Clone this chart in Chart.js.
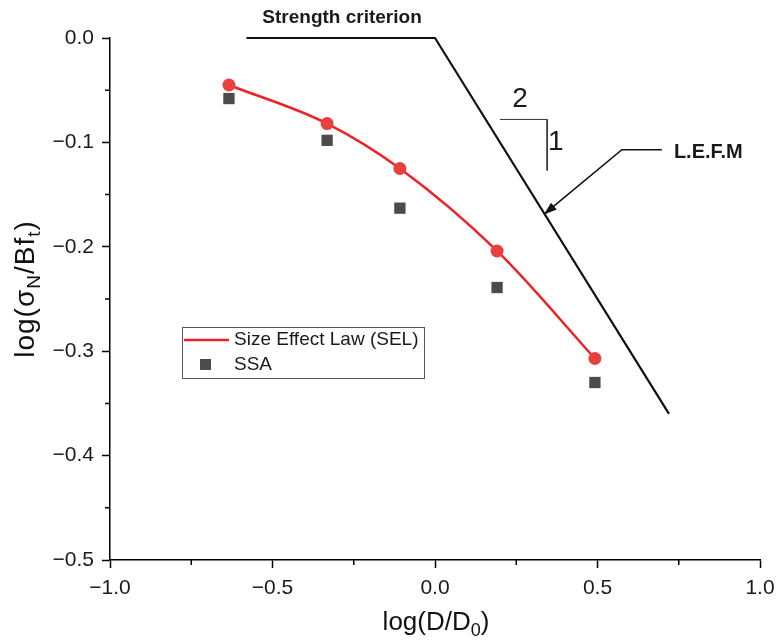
<!DOCTYPE html>
<html>
<head>
<meta charset="utf-8">
<script src="https://cdn.jsdelivr.net/npm/chart.js@4/dist/chart.umd.min.js"></script>
<style>
  body { margin: 0; background: #fff; }
  canvas { display: block; }
</style>
</head>
<body>
<canvas id="sizeEffectChart" width="776" height="644"></canvas>
<script>
// Specimen sizes, log(D/D0)
const sizeX = [-0.634, -0.332, -0.108, 0.191, 0.492];
// Size effect law fit, log(sigmaN/Bft)
const selY = [-0.045, -0.082, -0.125, -0.204, -0.307];
// SSA results
const ssaY = [-0.058, -0.098, -0.163, -0.239, -0.330];

// Strength criterion / LEFM asymptotes
const strengthX = [-0.58, 0, 0.72];
const strengthY = [0, 0, -0.36];

// Slope 1:2 marker
const slopeX = [0.2, 0.345, 0.345];
const slopeY = [-0.078, -0.078, -0.127];

// Leader for the L.E.F.M label (ends at the arrow tip)
const leaderX = [0.698, 0.575, 0.335];
const leaderY = [-0.107, -0.107, -0.169];

// Axis ticks
const xMajor = [-1.0, -0.5, 0.0, 0.5, 1.0];
const yMajor = [0.0, -0.1, -0.2, -0.3, -0.4, -0.5];
const xMinor = [-0.75, -0.25, 0.25, 0.75];
const yMinor = [-0.05, -0.15, -0.25, -0.35, -0.45];

const FONT = '"Liberation Sans", Arial, sans-serif';
const RED = '#ee2226';
const GREY = '#4b4b4b';

function toPoints(xs, ys) {
    return xs.map((x, i) => ({ x: x, y: ys[i] }));
}

function formatTick(value) {
    if (Math.abs(value) < 1e-9) return '0.0';
    return value.toFixed(1).replace('-', '\u2212');
}

// no extra room for edge labels, the chart area is set by layout padding
function fixScale(scale, key, size) {
    scale[key] = size;
    scale.paddingLeft = 0;
    scale.paddingRight = 0;
    scale.paddingTop = 0;
    scale.paddingBottom = 0;
}

// Draw a string made of normal and subscript runs
function drawRich(ctx, parts, x, y, size, spacing) {
    const subSize = Math.round(size * 0.68);
    ctx.letterSpacing = spacing + 'px';
    let total = 0;
    parts.forEach(p => {
        ctx.font = (p.sub ? subSize : size) + 'px ' + FONT;
        total += ctx.measureText(p.t).width;
    });
    let cx = x - total / 2;
    ctx.textAlign = 'left';
    ctx.textBaseline = 'alphabetic';
    parts.forEach(p => {
        ctx.font = (p.sub ? subSize : size) + 'px ' + FONT;
        ctx.fillText(p.t, cx, p.sub ? y + size * 0.22 : y);
        cx += ctx.measureText(p.t).width;
    });
    ctx.letterSpacing = '0px';
}

const annotationPlugin = {
    id: 'annotationPlugin',
    afterDraw(chart) {
        const { ctx, chartArea, scales } = chart;
        const xs = scales.x, ys = scales.y;
        ctx.save();

        // minor ticks
        ctx.strokeStyle = '#000';
        ctx.lineWidth = 1.5;
        ctx.beginPath();
        xMinor.forEach(v => {
            const px = xs.getPixelForValue(v);
            ctx.moveTo(px, chartArea.bottom);
            ctx.lineTo(px, chartArea.bottom + 5);
        });
        yMinor.forEach(v => {
            const py = ys.getPixelForValue(v);
            ctx.moveTo(chartArea.left, py);
            ctx.lineTo(chartArea.left - 5, py);
        });
        ctx.stroke();

        // arrow head on the leader
        const n = leaderX.length;
        const tipX = xs.getPixelForValue(leaderX[n - 1]);
        const tipY = ys.getPixelForValue(leaderY[n - 1]);
        const fromX = xs.getPixelForValue(leaderX[n - 2]);
        const fromY = ys.getPixelForValue(leaderY[n - 2]);
        const ang = Math.atan2(tipY - fromY, tipX - fromX);
        ctx.fillStyle = '#111';
        ctx.beginPath();
        ctx.moveTo(tipX, tipY);
        ctx.lineTo(tipX - 13 * Math.cos(ang) + 4.5 * Math.sin(ang), tipY - 13 * Math.sin(ang) - 4.5 * Math.cos(ang));
        ctx.lineTo(tipX - 13 * Math.cos(ang) - 4.5 * Math.sin(ang), tipY - 13 * Math.sin(ang) + 4.5 * Math.cos(ang));
        ctx.closePath();
        ctx.fill();

        // labels
        ctx.fillStyle = '#1a1a1a';
        ctx.textBaseline = 'middle';
        ctx.font = 'bold 19px ' + FONT;
        ctx.textAlign = 'center';
        ctx.fillText('Strength criterion', xs.getPixelForValue(-0.286), 18);
        ctx.textAlign = 'left';
        ctx.font = 'bold 20px ' + FONT;
        ctx.fillText('L.E.F.M', xs.getPixelForValue(0.735), ys.getPixelForValue(-0.110));
        ctx.font = '28px ' + FONT;
        ctx.textAlign = 'center';
        ctx.fillText('2', xs.getPixelForValue(0.262), ys.getPixelForValue(-0.059));
        ctx.fillText('1', xs.getPixelForValue(0.372), ys.getPixelForValue(-0.100));

        // axis titles
        ctx.fillStyle = '#111';
        drawRich(ctx, [{ t: 'log(D/D' }, { t: '0', sub: true }, { t: ')' }], 436, 630, 26, 0);
        ctx.translate(34, 289);
        ctx.rotate(-Math.PI / 2);
        drawRich(ctx, [{ t: 'log(\u03c3' }, { t: 'N', sub: true }, { t: '/Bf' }, { t: 't', sub: true }, { t: ')' }], 0, 0, 28, 1);
        ctx.setTransform(1, 0, 0, 1, 0, 0);

        // legend
        const lg = { x: 182, y: 327, w: 242, h: 51 };
        ctx.strokeStyle = '#555';
        ctx.lineWidth = 1;
        ctx.strokeRect(lg.x + 0.5, lg.y + 0.5, lg.w, lg.h);
        ctx.strokeStyle = RED;
        ctx.lineWidth = 2.5;
        ctx.beginPath();
        ctx.moveTo(lg.x + 2, lg.y + 13);
        ctx.lineTo(lg.x + 47, lg.y + 13);
        ctx.stroke();
        ctx.fillStyle = GREY;
        ctx.fillRect(lg.x + 18, lg.y + 32, 11, 11);
        ctx.fillStyle = '#1a1a1a';
        ctx.font = '19px ' + FONT;
        ctx.textAlign = 'left';
        ctx.textBaseline = 'middle';
        ctx.fillText('Size Effect Law (SEL)', lg.x + 52, lg.y + 13);
        ctx.fillText('SSA', lg.x + 52, lg.y + 38);

        ctx.restore();
    }
};

const ctx = document.getElementById('sizeEffectChart').getContext('2d');
new Chart(ctx, {
    type: 'scatter',
    data: {
        datasets: [
            {
                label: 'Strength criterion',
                data: toPoints(strengthX, strengthY),
                showLine: true,
                borderColor: '#111',
                borderWidth: 2.2,
                pointRadius: 0,
                clip: false
            },
            {
                label: 'slope',
                data: toPoints(slopeX, slopeY),
                showLine: true,
                borderColor: '#333',
                borderWidth: 1,
                pointRadius: 0,
                clip: false
            },
            {
                label: 'leader',
                data: toPoints(leaderX, leaderY),
                showLine: true,
                borderColor: '#111',
                borderWidth: 1.6,
                pointRadius: 0,
                clip: false
            },
            {
                label: 'SSA',
                data: toPoints(sizeX, ssaY),
                pointStyle: 'rect',
                pointRadius: 8,
                backgroundColor: GREY,
                borderColor: GREY,
                borderWidth: 0,
                clip: false
            },
            {
                label: 'Size Effect Law (SEL)',
                data: toPoints(sizeX, selY),
                showLine: true,
                cubicInterpolationMode: 'monotone',
                borderColor: RED,
                borderWidth: 2.5,
                pointRadius: 6.5,
                pointBackgroundColor: '#e8403f',
                pointBorderWidth: 0,
                clip: false
            }
        ]
    },
    options: {
        responsive: false,
        animation: false,
        layout: { padding: { top: 38, right: 16, left: 0, bottom: 0 } },
        plugins: {
            legend: { display: false },
            tooltip: { enabled: false }
        },
        scales: {
            x: {
                type: 'linear',
                min: -1,
                max: 1,
                afterBuildTicks: scale => { scale.ticks = xMajor.map(v => ({ value: v })); },
                afterFit: scale => fixScale(scale, 'height', 84),
                border: { display: true, color: '#000', width: 1.5 },
                grid: { drawOnChartArea: false, drawTicks: true, tickLength: 8, tickColor: '#000', tickWidth: 1.5 },
                ticks: {
                    color: '#1a1a1a',
                    padding: 8,
                    maxRotation: 0,
                    font: { family: FONT, size: 21 },
                    callback: formatTick
                }
            },
            y: {
                type: 'linear',
                min: -0.5,
                max: 0,
                afterBuildTicks: scale => { scale.ticks = yMajor.map(v => ({ value: v })); },
                afterFit: scale => fixScale(scale, 'width', 110),
                border: { display: true, color: '#000', width: 1.5 },
                grid: { drawOnChartArea: false, drawTicks: true, tickLength: 8, tickColor: '#000', tickWidth: 1.5 },
                ticks: {
                    color: '#1a1a1a',
                    padding: 8,
                    font: { family: FONT, size: 21 },
                    callback: formatTick
                }
            }
        }
    },
    plugins: [annotationPlugin]
});
</script>
</body>
</html>
